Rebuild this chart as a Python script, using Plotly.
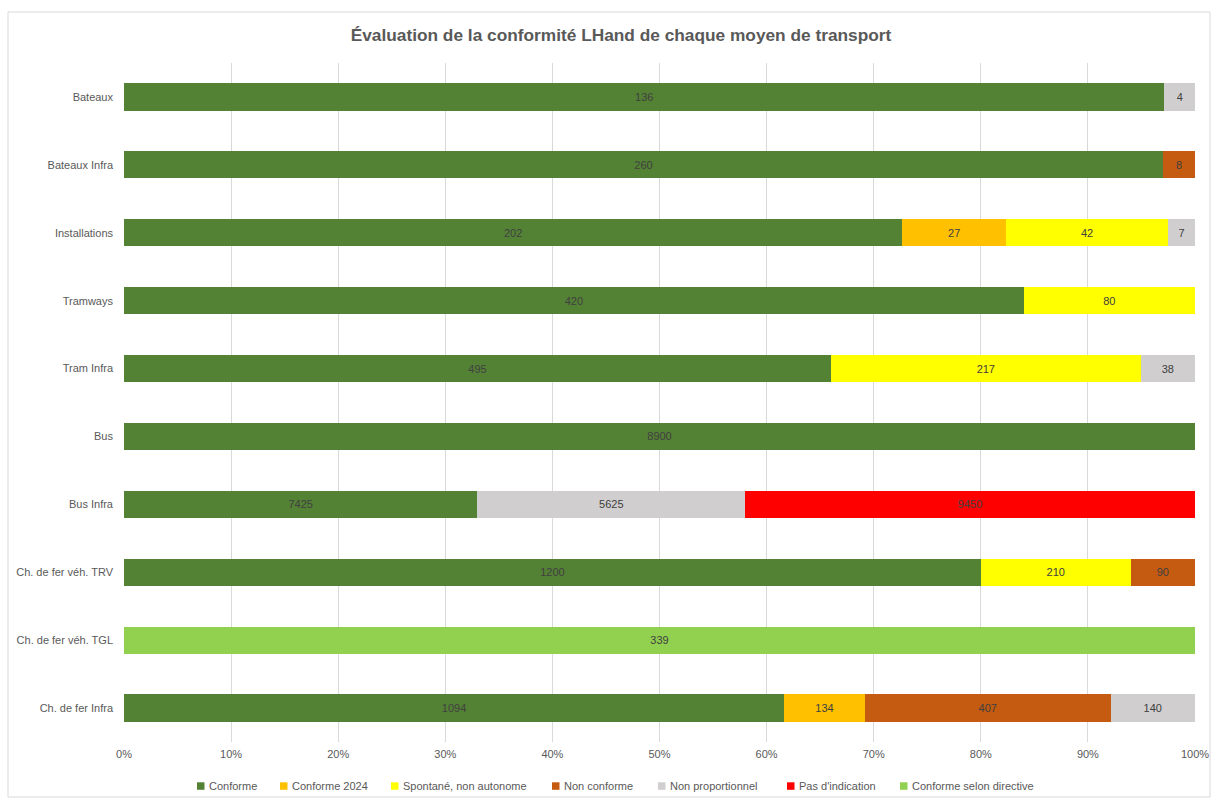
import plotly.graph_objects as go

categories = ["Bateaux", "Bateaux Infra", "Installations", "Tramways", "Tram Infra",
              "Bus", "Bus Infra", "Ch. de fer véh. TRV", "Ch. de fer véh. TGL", "Ch. de fer Infra"]

conforme = [136, 260, 202, 420, 495, 8900, 7425, 1200, None, 1094]
conforme_2024 = [None, None, 27, None, None, None, None, None, None, 134]
spontane = [None, None, 42, 80, 217, None, None, 210, None, None]
non_conforme = [None, 8, None, None, None, None, None, 90, None, 407]
non_proportionnel = [4, None, 7, None, 38, None, 5625, None, None, 140]
pas_indication = [None, None, None, None, None, None, 9450, None, None, None]
conforme_directive = [None, None, None, None, None, None, None, None, 339, None]

series_names = ["Conforme", "Conforme 2024", "Spontané, non autonome", "Non conforme",
                "Non proportionnel", "Pas d'indication", "Conforme selon directive"]
series_values = [conforme, conforme_2024, spontane, non_conforme,
                 non_proportionnel, pas_indication, conforme_directive]
series_colors = ["#548235", "#FFC000", "#FFFF00", "#C55A11", "#D0CECE", "#FF0000", "#92D050"]

FONT = "Liberation Sans"
fig = go.Figure()
for name, vals, color in zip(series_names, series_values, series_colors):
    fig.add_trace(go.Bar(
        name=name, y=categories, x=vals, orientation="h",
        marker=dict(color=color, line=dict(width=0)),
        text=[("" if v is None else str(v)) for v in vals],
        textposition="inside", insidetextanchor="middle",
        textfont=dict(color="#404040", size=11, family=FONT),
        constraintext="none", hoverinfo="skip", showlegend=False,
    ))

W, H = 1211, 798
L, R, T, B = 124, 16, 63, 56
pw = W - L - R
ph = H - T - B


def px_x(x):
    return (x - L) / pw


def px_y(y):
    return (H - B - y) / ph


# manual legend (positions in pixels)
legend_x = [197, 280, 391, 552, 658, 787, 900]
shapes = [dict(type="rect", xref="paper", yref="paper",
               x0=px_x(8), x1=px_x(1210), y0=px_y(797), y1=px_y(12),
               line=dict(color="#D9D9D9", width=1), fillcolor="rgba(0,0,0,0)", layer="below")]
annotations = []
for lx, name, color in zip(legend_x, series_names, series_colors):
    shapes.append(dict(type="rect", xref="paper", yref="paper",
                       x0=px_x(lx), x1=px_x(lx + 7.5), y0=px_y(789.8), y1=px_y(782.3),
                       line=dict(width=0), fillcolor=color))
    annotations.append(dict(xref="paper", yref="paper", x=px_x(lx + 10), y=px_y(786),
                            xanchor="left", yanchor="middle", showarrow=False,
                            text=name, font=dict(size=11, color="#595959", family=FONT)))

fig.update_layout(
    width=W, height=H,
    barmode="stack", barnorm="percent", bargap=0.6,
    margin=dict(l=L, r=R, t=T, b=B, autoexpand=False),
    paper_bgcolor="white", plot_bgcolor="white",
    font=dict(family=FONT, color="#595959", size=11),
    showlegend=False,
    hovermode=False,
    title=dict(text="<b>Évaluation de la conformité LHand de chaque moyen de transport</b>",
               x=621 / W, xanchor="center", xref="container",
               y=1 - 35 / H, yanchor="middle", yref="container",
               font=dict(size=17.3, color="#595959", family=FONT)),
    xaxis=dict(range=[0, 100], dtick=10, ticksuffix="%", showgrid=True,
               gridcolor="#D9D9D9", gridwidth=1, zeroline=False, showline=False,
               tickfont=dict(size=11, color="#595959"), ticks="", automargin=False,
               ticklabelstandoff=4, fixedrange=True),
    yaxis=dict(categoryorder="array", categoryarray=categories, autorange="reversed",
               showgrid=False, showline=False, ticks="", automargin=False,
               ticklabelstandoff=10, fixedrange=True,
               tickfont=dict(size=11, color="#595959")),
    shapes=shapes,
    annotations=annotations,
)

fig.write_html("out.html", config={"displayModeBar": False, "staticPlot": True},
               post_script="document.body.style.margin='0';document.body.style.overflow='hidden';")
